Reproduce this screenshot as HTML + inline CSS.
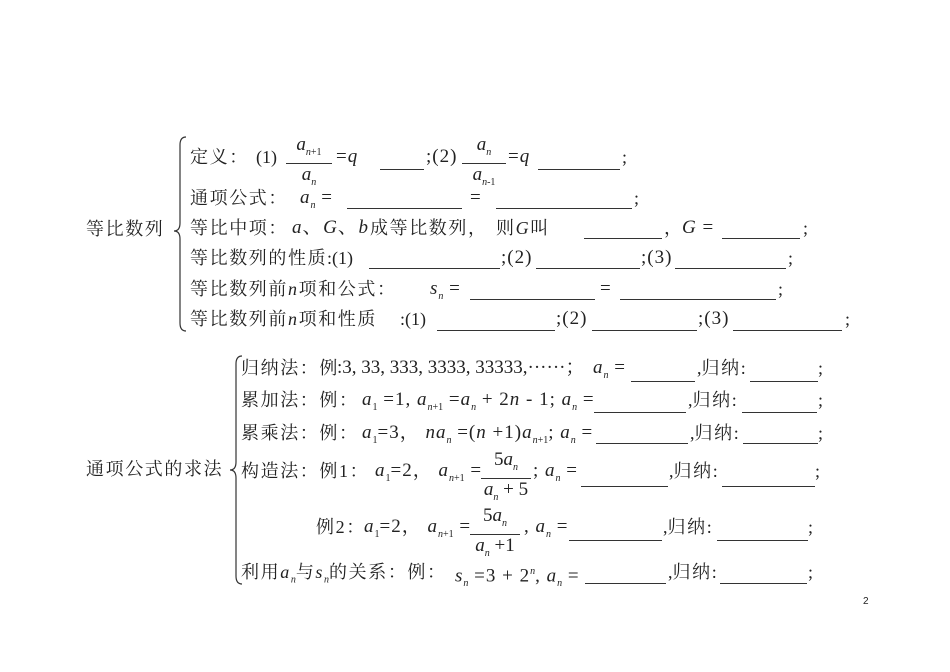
<!DOCTYPE html>
<html><head><meta charset="utf-8"><style>
body{margin:0;width:950px;height:672px;background:#fff;position:relative;overflow:hidden;font-family:"Liberation Serif","Noto Serif CJK SC","Noto Sans CJK SC",serif;color:#222;}
.t{position:absolute;font-size:18px;line-height:20px;white-space:nowrap;}
.c{letter-spacing:1.6px;}
.m{font-size:19px;letter-spacing:1px;}
.u{position:absolute;height:1px;background:#333;}
sub,sup{font-size:10px;letter-spacing:0;}
.f{position:absolute;font-size:19px;text-align:center;white-space:nowrap;}
.f .n{border-bottom:1px solid #333;padding:0 2px;line-height:20px;}
.f .d{line-height:22px;}
</style></head><body>
<!-- top block -->
<div class="t c" style="left:86px;top:219px">等比数列</div>
<svg style="position:absolute;left:170px;top:135px" width="20" height="200"><path d="M16 2 Q10 2 10 10 L10 88 Q10 96 4 96 Q10 96 10 104 L10 188 Q10 196 16 196" fill="none" stroke="#333" stroke-width="1.2"/></svg>

<div class="t c" style="left:190px;top:147px">定义：</div>
<div class="t" style="left:256px;top:147px">(1)</div>
<div class="f" style="left:286px;top:135px;width:46px"><div class="n"><i>a</i><sub><i>n</i>+1</sub></div><div class="d"><i>a</i><sub><i>n</i></sub></div></div>
<div class="t m" style="left:336px;top:147px">=<i>q</i></div>
<div class="u" style="left:380px;top:169px;width:44px"></div>
<div class="t m" style="left:426px;top:147px">;(2)</div>
<div class="f" style="left:462px;top:135px;width:44px"><div class="n"><i>a</i><sub><i>n</i></sub></div><div class="d"><i>a</i><sub><i>n</i>-1</sub></div></div>
<div class="t m" style="left:508px;top:147px">=<i>q</i></div>
<div class="u" style="left:538px;top:169px;width:82px"></div>
<div class="t" style="left:622px;top:147px">;</div>

<div class="t c" style="left:190px;top:188px">通项公式：</div>
<div class="t m" style="left:300px;top:188px"><i>a</i><sub><i>n</i></sub> =</div>
<div class="u" style="left:347px;top:208px;width:115px"></div>
<div class="t m" style="left:470px;top:188px">=</div>
<div class="u" style="left:496px;top:208px;width:136px"></div>
<div class="t" style="left:634px;top:188px">;</div>

<div class="t c" style="left:190px;top:218px">等比中项：</div>
<div class="t m" style="left:292px;top:218px"><i>a</i><span class="c">、</span><i>G</i><span class="c">、</span><i>b</i></div>
<div class="t c" style="left:370px;top:218px">成等比数列，</div>
<div class="t c" style="left:496px;top:218px">则<i>G</i>叫</div>
<div class="u" style="left:584px;top:238px;width:78px"></div>
<div class="t" style="left:664px;top:218px">，</div>
<div class="t m" style="left:682px;top:218px"><i>G</i> =</div>
<div class="u" style="left:722px;top:238px;width:78px"></div>
<div class="t" style="left:803px;top:218px">;</div>

<div class="t c" style="left:190px;top:248px">等比数列的性质</div>
<div class="t" style="left:327px;top:248px">:(1)</div>
<div class="u" style="left:369px;top:268px;width:131px"></div>
<div class="t m" style="left:501px;top:248px">;(2)</div>
<div class="u" style="left:536px;top:268px;width:104px"></div>
<div class="t m" style="left:641px;top:248px">;(3)</div>
<div class="u" style="left:675px;top:268px;width:111px"></div>
<div class="t" style="left:788px;top:248px">;</div>

<div class="t c" style="left:190px;top:279px">等比数列前<i>n</i>项和公式：</div>
<div class="t m" style="left:430px;top:279px"><i>s</i><sub><i>n</i></sub> =</div>
<div class="u" style="left:470px;top:299px;width:125px"></div>
<div class="t m" style="left:600px;top:279px">=</div>
<div class="u" style="left:620px;top:299px;width:156px"></div>
<div class="t" style="left:778px;top:279px">;</div>

<div class="t c" style="left:190px;top:309px">等比数列前<i>n</i>项和性质</div>
<div class="t" style="left:400px;top:309px">:(1)</div>
<div class="u" style="left:437px;top:330px;width:118px"></div>
<div class="t m" style="left:556px;top:309px">;(2)</div>
<div class="u" style="left:592px;top:330px;width:105px"></div>
<div class="t m" style="left:698px;top:309px">;(3)</div>
<div class="u" style="left:733px;top:330px;width:109px"></div>
<div class="t" style="left:845px;top:309px">;</div>

<!-- bottom block -->
<div class="t c" style="left:86px;top:459px">通项公式的求法</div>
<svg style="position:absolute;left:228px;top:354px" width="20" height="234"><path d="M14 2 Q8 2 8 10 L8 108 Q8 116 2 116 Q8 116 8 124 L8 222 Q8 230 14 230" fill="none" stroke="#333" stroke-width="1.2"/></svg>

<div class="t c" style="left:241px;top:358px">归纳法：例</div>
<div class="t" style="left:337px;top:358px;font-size:19px">:3, 33, 333, 3333, 33333,······；</div>
<div class="t m" style="left:593px;top:358px"><i>a</i><sub><i>n</i></sub> =</div>
<div class="u" style="left:631px;top:381px;width:64px"></div>
<div class="t" style="left:697px;top:358px">,<span class="c">归纳</span>:</div>
<div class="u" style="left:750px;top:381px;width:68px"></div>
<div class="t" style="left:818px;top:358px">;</div>

<div class="t c" style="left:241px;top:390px">累加法：例：</div>
<div class="t m" style="left:362px;top:390px"><i>a</i><sub>1</sub> =1, <i>a</i><sub><i>n</i>+1</sub> =<i>a</i><sub><i>n</i></sub> + 2<i>n</i> - 1; <i>a</i><sub><i>n</i></sub> =</div>
<div class="u" style="left:594px;top:412px;width:92px"></div>
<div class="t" style="left:688px;top:390px">,<span class="c">归纳</span>:</div>
<div class="u" style="left:742px;top:412px;width:75px"></div>
<div class="t" style="left:818px;top:390px">;</div>

<div class="t c" style="left:241px;top:423px">累乘法：例：</div>
<div class="t m" style="left:362px;top:423px"><i>a</i><sub>1</sub>=3，&nbsp;<i>na</i><sub><i>n</i></sub> =(<i>n</i> +1)<i>a</i><sub><i>n</i>+1</sub>; <i>a</i><sub><i>n</i></sub> =</div>
<div class="u" style="left:596px;top:443px;width:92px"></div>
<div class="t" style="left:690px;top:423px">,<span class="c">归纳</span>:</div>
<div class="u" style="left:743px;top:443px;width:75px"></div>
<div class="t" style="left:818px;top:423px">;</div>

<div class="t c" style="left:241px;top:461px">构造法：例1：</div>
<div class="t m" style="left:375px;top:461px"><i>a</i><sub>1</sub>=2，&nbsp;<i>a</i><sub><i>n</i>+1</sub> =</div>
<div class="f" style="left:481px;top:450px;width:50px"><div class="n">5<i>a</i><sub><i>n</i></sub></div><div class="d"><i>a</i><sub><i>n</i></sub> + 5</div></div>
<div class="t m" style="left:533px;top:461px">; <i>a</i><sub><i>n</i></sub> =</div>
<div class="u" style="left:581px;top:486px;width:87px"></div>
<div class="t" style="left:669px;top:461px">,<span class="c">归纳</span>:</div>
<div class="u" style="left:722px;top:486px;width:93px"></div>
<div class="t" style="left:815px;top:461px">;</div>

<div class="t c" style="left:316px;top:517px">例2：</div>
<div class="t m" style="left:364px;top:517px"><i>a</i><sub>1</sub>=2，&nbsp;<i>a</i><sub><i>n</i>+1</sub> =</div>
<div class="f" style="left:470px;top:506px;width:50px"><div class="n">5<i>a</i><sub><i>n</i></sub></div><div class="d"><i>a</i><sub><i>n</i></sub> +1</div></div>
<div class="t m" style="left:524px;top:517px">, <i>a</i><sub><i>n</i></sub> =</div>
<div class="u" style="left:569px;top:540px;width:93px"></div>
<div class="t" style="left:663px;top:517px">,<span class="c">归纳</span>:</div>
<div class="u" style="left:717px;top:540px;width:91px"></div>
<div class="t" style="left:808px;top:517px">;</div>

<div class="t c" style="left:241px;top:562px">利用<i>a</i><sub><i>n</i></sub>与<i>s</i><sub><i>n</i></sub>的关系：例：</div>
<div class="t m" style="left:455px;top:562px"><i>s</i><sub><i>n</i></sub> =3 + 2<sup><i>n</i></sup>, <i>a</i><sub><i>n</i></sub> =</div>
<div class="u" style="left:585px;top:583px;width:81px"></div>
<div class="t" style="left:668px;top:562px">,<span class="c">归纳</span>:</div>
<div class="u" style="left:720px;top:583px;width:87px"></div>
<div class="t" style="left:808px;top:562px">;</div>

<div class="t" style="left:863px;top:592px;font-size:10px;font-family:'Liberation Sans',sans-serif">2</div>
</body></html>
